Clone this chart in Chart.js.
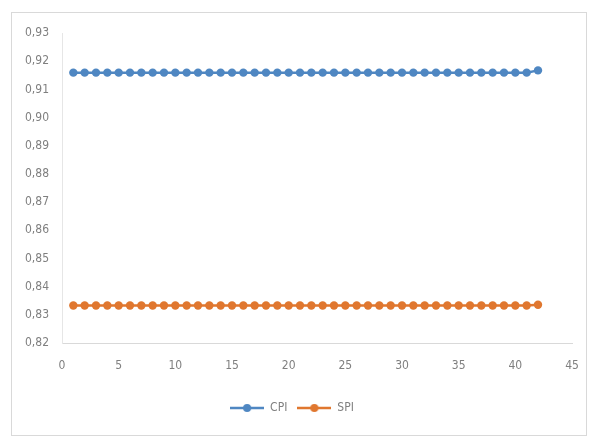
<!DOCTYPE html>
<html>
<head>
<meta charset="utf-8">
<script src="https://cdn.jsdelivr.net/npm/chart.js@4"></script>
<style>
html,body{margin:0;padding:0;background:#fff;}
#box{position:absolute;left:11px;top:12px;width:574px;height:422px;border:1px solid #d9d9d9;}
canvas{display:block;}
</style>
</head>
<body>
<div id="box"><canvas id="c" width="574" height="422"></canvas></div>
<script>
const periods = [1,2,3,4,5,6,7,8,9,10,11,12,13,14,15,16,17,18,19,20,21,22,23,24,25,26,27,28,29,30,31,32,33,34,35,36,37,38,39,40,41,42];
const cpiValues = [0.9160,0.9160,0.9160,0.9160,0.9160,0.9160,0.9160,0.9160,0.9160,0.9160,0.9160,0.9160,0.9160,0.9160,0.9160,0.9160,0.9160,0.9160,0.9160,0.9160,0.9160,0.9160,0.9160,0.9160,0.9160,0.9160,0.9160,0.9160,0.9160,0.9160,0.9160,0.9160,0.9160,0.9160,0.9160,0.9160,0.9160,0.9160,0.9160,0.9160,0.9160,0.9168];
const spiValues = [0.8333,0.8333,0.8333,0.8333,0.8333,0.8333,0.8333,0.8333,0.8333,0.8333,0.8333,0.8333,0.8333,0.8333,0.8333,0.8333,0.8333,0.8333,0.8333,0.8333,0.8333,0.8333,0.8333,0.8333,0.8333,0.8333,0.8333,0.8333,0.8333,0.8333,0.8333,0.8333,0.8333,0.8333,0.8333,0.8333,0.8333,0.8333,0.8333,0.8333,0.8333,0.8336];
const seriesNames = ['CPI','SPI'];
const xTicks = [0,5,10,15,20,25,30,35,40,45];
const yTicks = [0.82,0.83,0.84,0.85,0.86,0.87,0.88,0.89,0.90,0.91,0.92,0.93];

const blue = '#4F87C2';
const orange = '#E0772F';
const FONT = "'Liberation Sans Narrow','Arial Narrow','DejaVu Sans Condensed','Liberation Sans',sans-serif";

function legendIcon(color){
  const cv = document.createElement('canvas');
  cv.width = 34; cv.height = 10;
  const g = cv.getContext('2d');
  g.strokeStyle = color; g.lineWidth = 2.5;
  g.beginPath(); g.moveTo(0,5); g.lineTo(34,5); g.stroke();
  g.fillStyle = color;
  g.beginPath(); g.arc(17,5,4,0,Math.PI*2); g.fill();
  return cv;
}

function pts(vals){ return periods.map((p,i)=>({x:p,y:vals[i]})); }

new Chart(document.getElementById('c'), {
  type:'line',
  data:{
    datasets:[
      {label:seriesNames[0], data:pts(cpiValues), borderColor:blue, backgroundColor:blue, borderWidth:2.5, pointRadius:4.2, pointHoverRadius:4.2, pointBackgroundColor:blue, pointBorderColor:blue, pointBorderWidth:0, tension:0, icon:legendIcon(blue)},
      {label:seriesNames[1], data:pts(spiValues), borderColor:orange, backgroundColor:orange, borderWidth:2.5, pointRadius:4.2, pointHoverRadius:4.2, pointBackgroundColor:orange, pointBorderColor:orange, pointBorderWidth:0, tension:0, icon:legendIcon(orange)}
    ]
  },
  options:{
    responsive:false,
    animation:false,
    layout:{padding:{left:0,right:14,top:15,bottom:11}},
    scales:{
      x:{
        type:'linear', min:0, max:45,
        afterBuildTicks:(s)=>{ s.ticks = xTicks.map(v=>({value:v})); },
        afterFit:(s)=>{ s.height = 49; s.paddingRight = 0; s.paddingLeft = 0; },
        grid:{display:false, drawTicks:false},
        border:{display:true, color:'#d9d9d9', width:1},
        ticks:{color:'#7f7f7f', padding:16, maxRotation:0, autoSkip:false, font:{family:FONT, size:12}}
      },
      y:{
        type:'linear', min:0.82, max:0.93,
        afterBuildTicks:(s)=>{ s.ticks = yTicks.map(v=>({value:v})); },
        afterFit:(s)=>{ s.width = 50; },
        grid:{display:false, drawTicks:false},
        border:{display:true, color:'#e6e6e6', width:1},
        ticks:{color:'#7f7f7f', padding:13, autoSkip:false, font:{family:FONT, size:12},
          callback:(v)=>Number(v).toFixed(2).replace('.', ',')}
      }
    },
    plugins:{
      tooltip:{enabled:false},
      legend:{
        position:'bottom',
        labels:{
          usePointStyle:true, pointStyleWidth:34, boxHeight:10,
          color:'#7f7f7f', font:{family:FONT, size:12}, padding:10,
          generateLabels:(chart)=>chart.data.datasets.map((d,i)=>({
            text:d.label, pointStyle:d.icon, fillStyle:d.borderColor, strokeStyle:d.borderColor,
            lineWidth:0, hidden:false, datasetIndex:i, fontColor:'#7f7f7f'
          }))
        }
      }
    }
  }
});
</script>
</body>
</html>
